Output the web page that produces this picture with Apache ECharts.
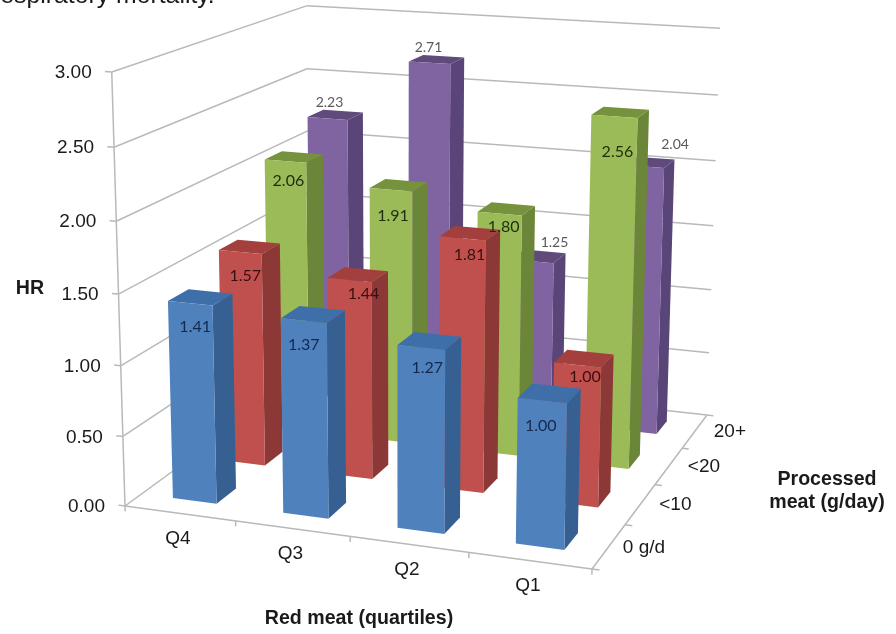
<!DOCTYPE html>
<html>
<head>
<meta charset="utf-8">
<style>html,body{margin:0;padding:0;background:#fff}#chart{width:896px;height:634px}</style>
<script src="https://cdn.jsdelivr.net/npm/echarts@6/dist/echarts.min.js"></script>
</head>
<body>
<div id="chart"></div>
<script>
// Hazard ratios by red meat quartile and processed meat intake
const redMeat = ['Q4', 'Q3', 'Q2', 'Q1'];
const processedMeat = ['0 g/d', '<10', '<20', '20+'];
const hrTicks = [0, 0.5, 1, 1.5, 2, 2.5, 3];
const hr0 = [1.41, 1.37, 1.27, 1.00];
const hr10 = [1.57, 1.44, 1.81, 1.00];
const hr20 = [2.06, 1.91, 1.80, 2.56];
const hr20plus = [2.23, 2.71, 1.25, 2.04];

// Perspective box: floor corners, top of the front-left edge and where verticals converge
const FLOOR = [[125, 506], [592, 569], [707, 415], [310, 371.2]];
const TOP_FRONT_LEFT = [110, 72];
const VERTICAL_VANISH = [400, 9500];
const BAR_U = 0.40, BAR_V = 0.39, SHIFT_U = -0.01;
const LINE = '#b9b9b9';
const TEXT = '#1a1a1a';
const AXIS_FONT = '19px "Liberation Sans"';
const TITLE_FONT = 'bold 19.6px "Liberation Sans"';

function buildProjection() {
  const [[x0, y0], [x1, y1], [x2, y2], [x3, y3]] = FLOOR;
  const dx1 = x1 - x2, dx2 = x3 - x2, sx = x0 - x1 + x2 - x3;
  const dy1 = y1 - y2, dy2 = y3 - y2, sy = y0 - y1 + y2 - y3;
  const den = dx1 * dy2 - dx2 * dy1;
  const g = (sx * dy2 - dx2 * sy) / den, h = (dx1 * sy - sx * dy1) / den;
  const a = x1 - x0 + g * x1, b = x3 - x0 + h * x3;
  const d = y1 - y0 + g * y1, e = y3 - y0 + h * y3;
  const ya = TOP_FRONT_LEFT[1];
  const C = (ya - y0) / (VERTICAL_VANISH[1] - ya);
  const A = C * VERTICAL_VANISH[0], B = C * VERTICAL_VANISH[1];
  return (u, v, z) => {
    const w = g * u + h * v + C * z + 1;
    return [(a * u + b * v + A * z + x0) / w, (d * u + e * v + B * z + y0) / w];
  };
}
const project = buildProjection();

const poly = (points, fill) => ({ type: 'polygon', shape: { points }, style: { fill } });
const seg = (p, q) => ({
  type: 'line', shape: { x1: p[0], y1: p[1], x2: q[0], y2: q[1] },
  style: { stroke: LINE, lineWidth: 1.5 }
});
const txt = (text, x, y, font, fill, align) => ({
  type: 'text',
  style: { text, x, y, font, fill, textAlign: align || 'center', textVerticalAlign: 'middle' }
});

// Height on the value axis as a 0..1 fraction of the wall
function zOf(api, params, value) {
  const c = params.coordSys;
  return (c.y + c.height - api.coord([0, value])[1]) / c.height;
}
function uOf(api, params, index) {
  const c = params.coordSys;
  return (api.coord([index, 0])[0] - c.x) / c.width + SHIFT_U / 4;
}

function renderWalls(params, api) {
  const tick = api.value(1);
  const z = zOf(api, params, tick);
  const front = project(0, 0, z), back = project(0, 1, z), right = project(1, 1, z);
  const out = [seg(front, back), seg(back, right), seg(project(-0.015, 0, z), front)];
  out.push(txt(tick.toFixed(2), front[0] - 20, front[1] + 1, AXIS_FONT, TEXT, 'right'));
  return { type: 'group', children: out };
}

function renderFloorAxes(params, api) {
  const out = [
    seg(project(0, 0, 0), project(0, 0, 1)),
    seg(project(0, 0, 0), project(1, 0, 0)),
    seg(project(1, 0, 0), project(1, 1, 0))
  ];
  for (let i = 0; i <= 4; i++) {
    out.push(seg(project(i / 4, 0, 0), project(i / 4, 0, -0.013)));
    out.push(seg(project(1, i / 4, 0), project(1.015, i / 4, 0)));
  }
  redMeat.forEach((name, i) => {
    const p = project((i + 0.5) / 4, 0, 0);
    out.push(txt(name, p[0] - 2, p[1] + 25.5, AXIS_FONT, TEXT));
  });
  processedMeat.forEach((name, k) => {
    const p = project(1, (k + 0.5) / 4, 0);
    out.push(txt(name, p[0] + 35, p[1] + 1, AXIS_FONT, TEXT));
  });
  return { type: 'group', children: out };
}

const barRenderer = (depthIndex, colors) => (params, api) => {
  const i = api.value(0);
  const z = zOf(api, params, api.value(1));
  const uc = uOf(api, params, i), vc = (depthIndex + 0.5) / 4;
  const u0 = uc - BAR_U / 8, u1 = uc + BAR_U / 8, v0 = vc - BAR_V / 8, v1 = vc + BAR_V / 8;
  const fl0 = project(u0, v0, 0), fr0 = project(u1, v0, 0), br0 = project(u1, v1, 0);
  const fl1 = project(u0, v0, z), fr1 = project(u1, v0, z), br1 = project(u1, v1, z), bl1 = project(u0, v1, z);
  return {
    type: 'group',
    children: [
      poly([fr0, br0, br1, fr1], colors.side),
      poly([fl1, fr1, br1, bl1], colors.top),
      poly([fl0, fr0, fr1, fl1], colors.front)
    ]
  };
};

// Each value label sits a fixed distance from its bar's front top edge, then gets a hand nudge
const labelRenderer = (depthIndex, style) => (params, api) => {
  const i = api.value(0), value = api.value(1);
  const z = zOf(api, params, value);
  const p = project(uOf(api, params, i), (depthIndex + 0.5) / 4 - BAR_V / 8, z);
  const [nx, ny] = style.nudge[i];
  return txt(value.toFixed(2), p[0] + nx, p[1] + style.dy + ny, style.font, style.fill);
};

const rows = [
  { values: hr20plus, k: 3, colors: { front: '#8064a2', side: '#5a4578', top: '#604a7b' },
    label: { dy: -22, font: '14px Lato', fill: '#595959', nudge: [[2, 6], [-1, 7], [22, 3], [33, 0]] } },
  { values: hr20, k: 2, colors: { front: '#9bbb59', side: '#6b8539', top: '#76923c' },
    label: { dy: 20, font: '16px Lato', fill: '#1f2d0c', nudge: [[3, 0], [2, 6], [4, -7], [3, 16]] } },
  { values: hr10, k: 1, colors: { front: '#c0504d', side: '#8c3836', top: '#a33f3c' },
    label: { dy: 20, font: '16px Lato', fill: '#3a0f0f', nudge: [[5, 4], [14, -6], [7, -4], [7.5, -8]] } },
  { values: hr0, k: 0, colors: { front: '#4f81bd', side: '#376092', top: '#3f6fa8' },
    label: { dy: 22, font: '16px Lato', fill: '#14294d', nudge: [[5, 2], [0, 2], [6, -2], [-1.5, 3]] } }
];

const base = { type: 'custom', coordinateSystem: 'cartesian2d', silent: true, clip: false, animation: false };
const series = [
  { ...base, name: 'walls', z: 1, data: hrTicks.map(t => [0, t]), encode: { x: 0, y: 1 }, renderItem: renderWalls },
  { ...base, name: 'floor', z: 2, data: [[0, 0]], encode: { x: 0, y: 1 }, renderItem: renderFloorAxes }
];
rows.forEach((row, n) => {
  series.push({
    ...base, name: processedMeat[row.k], z: 3 + n,
    data: row.values.map((v, i) => [i, v]), encode: { x: 0, y: 1 },
    renderItem: barRenderer(row.k, row.colors)
  });
});
rows.forEach(row => {
  series.push({
    ...base, name: processedMeat[row.k] + ' labels', z: 10,
    data: row.values.map((v, i) => [i, v]), encode: { x: 0, y: 1 },
    renderItem: labelRenderer(row.k, row.label)
  });
});

const note = (text, x, y, font, align) => ({
  type: 'text',
  style: { text, x, y, font, fill: TEXT, textAlign: align || 'center', textVerticalAlign: 'middle' }
});

const chart = echarts.init(document.getElementById('chart'), null, { renderer: 'canvas' });
chart.setOption({
  backgroundColor: '#ffffff',
  animation: false,
  grid: { left: 100, right: 100, top: 100, bottom: 100 },
  xAxis: { type: 'category', data: redMeat, show: false },
  yAxis: { type: 'value', min: 0, max: 3, interval: 0.5, show: false },
  series,
  graphic: [
    note('respiratory mortality.', -8, -4, '24.8px "Liberation Sans"', 'left'),
    note('HR', 30, 289, TITLE_FONT),
    note('Red meat (quartiles)', 359, 619, TITLE_FONT),
    note('Processed', 827, 480, TITLE_FONT),
    note('meat (g/day)', 827, 503, TITLE_FONT)
  ]
});
</script>
</body>
</html>
